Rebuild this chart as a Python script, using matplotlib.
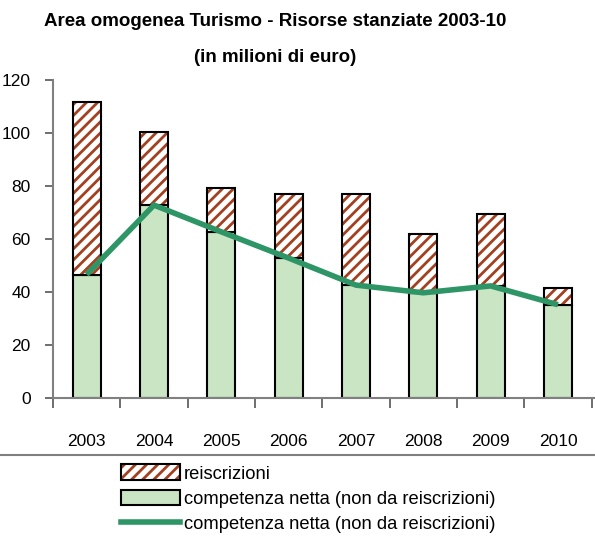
import matplotlib
matplotlib.use("Agg")
import matplotlib.pyplot as plt
from matplotlib.patches import Patch
from matplotlib.lines import Line2D
import numpy as np
from matplotlib import font_manager

names = {f.name for f in font_manager.fontManager.ttflist}
fam = ['Liberation Sans Narrow'] if 'Liberation Sans Narrow' in names else ['Liberation Sans']
plt.rcParams['font.family'] = fam + ['DejaVu Sans']
plt.rcParams['hatch.linewidth'] = 2.0

years = ['2003', '2004', '2005', '2006', '2007', '2008', '2009', '2010']
competenza = [46.6, 72.8, 62.7, 52.8, 42.6, 39.7, 42.3, 35.2]
totale = [111.6, 100.3, 79.3, 77.0, 77.0, 62.0, 69.5, 41.4]
reiscrizioni = [t - c for t, c in zip(totale, competenza)]

green_fill = '#CAE5C3'
line_col = '#2E9566'
hatch_col = '#A3401F'

fig = plt.figure(figsize=(5.95, 5.37), dpi=100)
ax = fig.add_axes([53/595, 1 - 398/537, 1 - 53/595, (398 - 80)/537])

x = np.arange(len(years))
w = 0.42
ax.bar(x, competenza, w, color=green_fill, edgecolor='black', linewidth=1.5, zorder=2)
ax.bar(x, reiscrizioni, w, bottom=competenza, color='white', edgecolor=hatch_col,
       hatch='///', linewidth=0, zorder=2)
ax.bar(x, reiscrizioni, w, bottom=competenza, color='none', edgecolor='black',
       linewidth=1.5, zorder=3)
ax.plot(x, competenza, color=line_col, lw=4.0, zorder=4, solid_capstyle='butt')

ax.set_xlim(-0.5, 7.55)
ax.set_ylim(0, 120)
ax.set_yticks(np.arange(0, 121, 20))
ax.set_xticks(x)
ax.set_xticklabels(years)
ax.set_xticks(np.arange(-0.5, 7.6, 1.0), minor=True)
ax.tick_params(axis='x', which='major', length=0, pad=26, labelsize=12.5)
ax.tick_params(axis='x', which='minor', length=7, width=1.2, color='#555555', direction='out')
ax.tick_params(axis='y', length=6, width=1.2, color='#555555', labelsize=12.5, pad=10)
for s in ['top', 'right']:
    ax.spines[s].set_visible(False)
for s in ['left', 'bottom']:
    ax.spines[s].set_color('#808080')
    ax.spines[s].set_linewidth(1.5)

fig.text(275/595, 1 - 22/537, 'Area omogenea Turismo - Risorse stanziate 2003-10',
         ha='center', va='center', fontsize=13.5, fontweight='bold')
fig.text(275/595, 1 - 57/537, '(in milioni di euro)',
         ha='center', va='center', fontsize=13.5, fontweight='bold')

fig.add_artist(Line2D([0, 1], [1 - 455/537, 1 - 455/537], color='#808080', lw=1.5,
                      transform=fig.transFigure))

h0 = (Patch(facecolor='white', edgecolor=hatch_col, hatch='///', linewidth=0),
      Patch(facecolor='none', edgecolor='black', linewidth=1.5))
h1 = Patch(facecolor=green_fill, edgecolor='black', linewidth=1.5)
h2 = Line2D([0], [0], color=line_col, lw=4)
labels = ['reiscrizioni', 'competenza netta (non da reiscrizioni)',
          'competenza netta (non da reiscrizioni)']
leg = fig.legend([h0, h1, h2], labels, loc='upper left',
                 bbox_to_anchor=(114/595, 1 - 457/537), frameon=False,
                 fontsize=13.2, handlelength=3.2, handleheight=0.95, handletextpad=0.2,
                 labelspacing=0.38, borderaxespad=0)

fig.savefig('out.png', dpi=100)
